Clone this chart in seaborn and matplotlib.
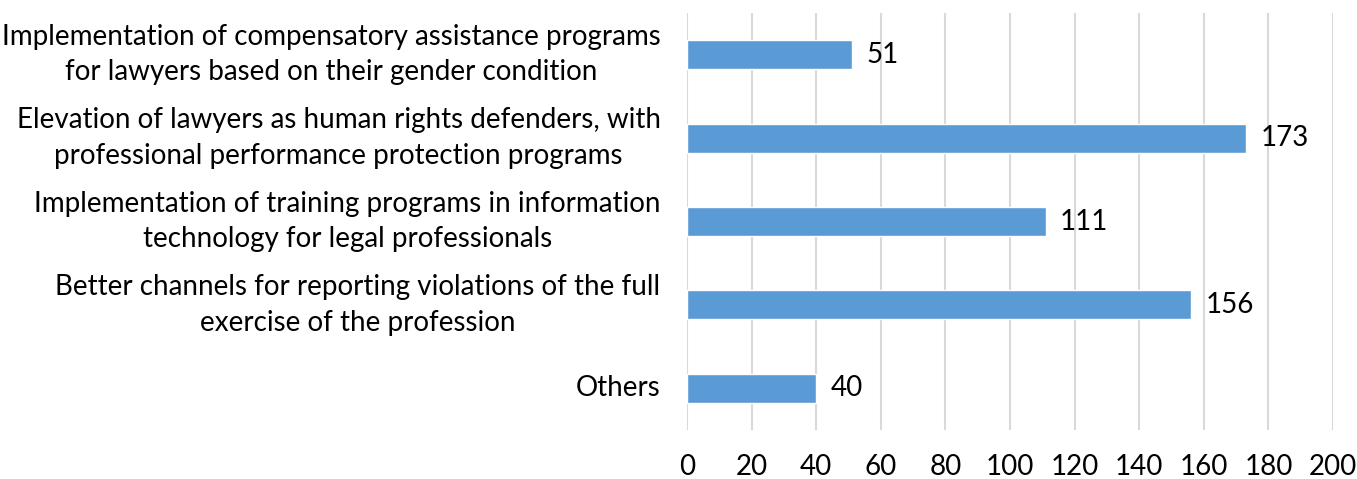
import matplotlib
matplotlib.use("Agg")
import matplotlib.pyplot as plt
import seaborn as sns
import pandas as pd

categories = [
    "Implementation of compensatory assistance programs\nfor lawyers based on their gender condition",
    "Elevation of lawyers as human rights defenders, with\nprofessional performance protection programs",
    "Implementation of training programs in information\ntechnology for legal professionals",
    "Better channels for reporting violations of the full\nexercise of the profession",
    "Others",
]
values = [51, 173, 111, 156, 40]
x_ticks = [0, 20, 40, 60, 80, 100, 120, 140, 160, 180, 200]

sns.set_theme(style="white")
plt.rcParams['font.family'] = ['Lato', 'DejaVu Sans']

df = pd.DataFrame({"category": categories, "value": values})

fig = plt.figure(figsize=(13.57, 4.79), dpi=100)
ax = fig.add_axes([687/1357, 49/479, (1333-687)/1357, (430-13)/479])

sns.barplot(data=df, x="value", y="category", orient="h", color="#5B9BD5",
            width=0.35, saturation=1, ax=ax, zorder=3)

ax.set_xlim(0, 200)
ax.set_xticks(x_ticks)
ax.xaxis.grid(True, color="#D9D9D9", linewidth=1.5, zorder=0)
ax.yaxis.grid(False)
for s in ax.spines.values():
    s.set_visible(False)
ax.set_xlabel("")
ax.set_ylabel("")
ax.tick_params(axis="x", length=0, pad=17, labelsize=20, labelcolor="black")
ax.tick_params(axis="y", length=0, pad=19, labelsize=20, labelcolor="black")
for lab in ax.get_yticklabels():
    lab.set_horizontalalignment("right")
    lab.set_verticalalignment("center")
    lab.set_multialignment("center")
    lab.set_linespacing(1.45)

for i, v in enumerate(values):
    ax.text(v + 4.5, i, str(v), va="center", ha="left", fontsize=20, color="black")

fig.savefig("out.png", dpi=100)
